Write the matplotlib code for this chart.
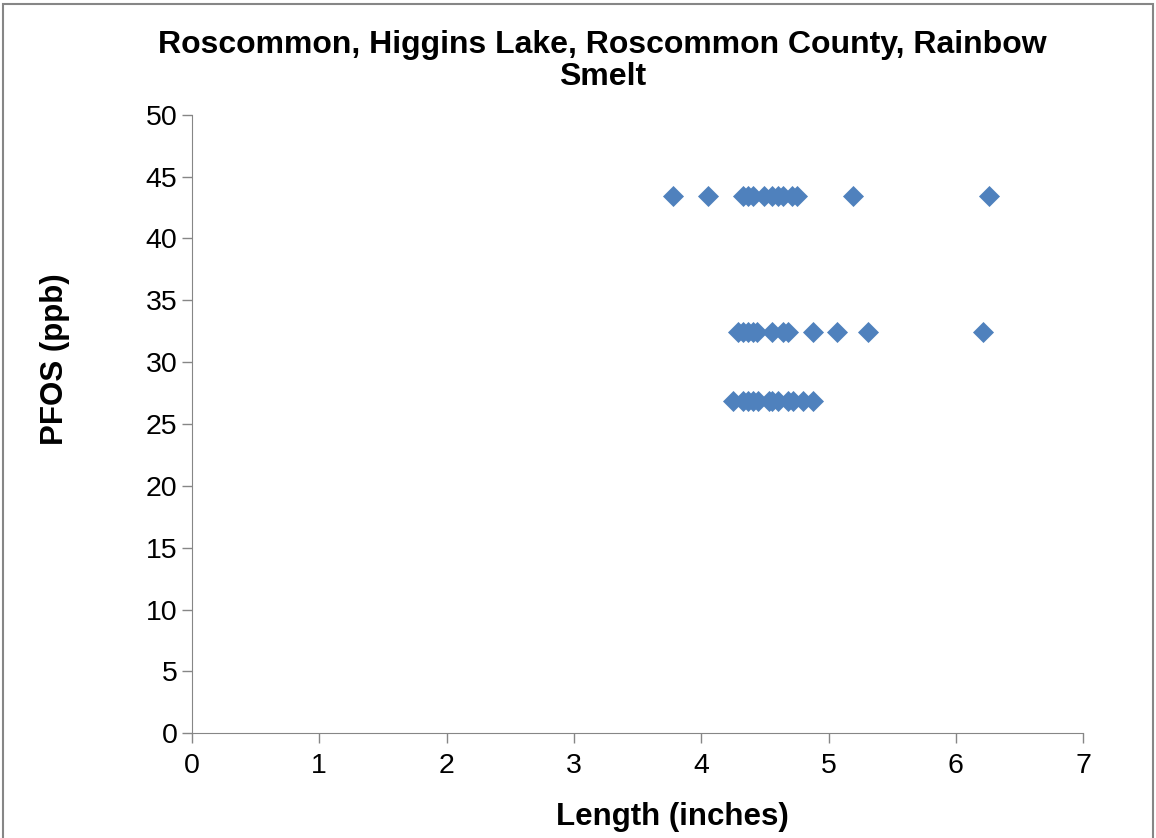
import matplotlib.pyplot as plt
from matplotlib.patches import Rectangle

plt.rcParams['font.family'] = ['Liberation Sans', 'DejaVu Sans']

# lengths (inches) read per PFOS level
len_434 = [3.78, 4.05, 4.33, 4.37, 4.41, 4.49, 4.56, 4.60, 4.64, 4.71, 4.75, 5.19, 6.26]
len_324 = [4.29, 4.33, 4.37, 4.41, 4.44, 4.56, 4.64, 4.68, 4.88, 5.07, 5.31, 6.21]
len_269 = [4.25, 4.33, 4.37, 4.41, 4.45, 4.53, 4.56, 4.60, 4.68, 4.72, 4.80, 4.88]
pfos_levels = [43.4, 32.4, 26.9]

xs = len_434 + len_324 + len_269
ys = [pfos_levels[0]]*len(len_434) + [pfos_levels[1]]*len(len_324) + [pfos_levels[2]]*len(len_269)

fig = plt.figure(figsize=(11.56, 8.38), dpi=100)
ax = fig.add_axes([0.166, 0.125, 0.771, 0.738])

ax.scatter(xs, ys, marker='D', s=115, color='#4F81BD', linewidths=0, zorder=3)

ax.set_xlim(0, 7)
ax.set_ylim(0, 50)
ax.set_xticks(range(0, 8))
ax.set_yticks(range(0, 51, 5))
ax.tick_params(labelsize=20.5, direction='out', length=7, color='#868686', width=1)
ax.tick_params(axis='x', pad=7)
for s in ['top', 'right']:
    ax.spines[s].set_visible(False)
for s in ['left', 'bottom']:
    ax.spines[s].set_color('#868686')

fig.text(0.582, 0.025, 'Length (inches)', ha='center', va='center', fontsize=22.5, fontweight='bold')
fig.text(0.048, 0.571, 'PFOS (ppb)', ha='center', va='center', rotation=90, fontsize=22.5, fontweight='bold')

fig.text(0.521, 0.927, 'Roscommon, Higgins Lake, Roscommon County, Rainbow\nSmelt',
         ha='center', va='center', fontsize=23, fontweight='bold', linespacing=1.1)

# outer frame
fig.patches.append(Rectangle((0.003, -0.01), 0.994, 1.005, transform=fig.transFigure,
                             fill=False, edgecolor='#868686', linewidth=1.5))

plt.savefig('out.png', dpi=100)
